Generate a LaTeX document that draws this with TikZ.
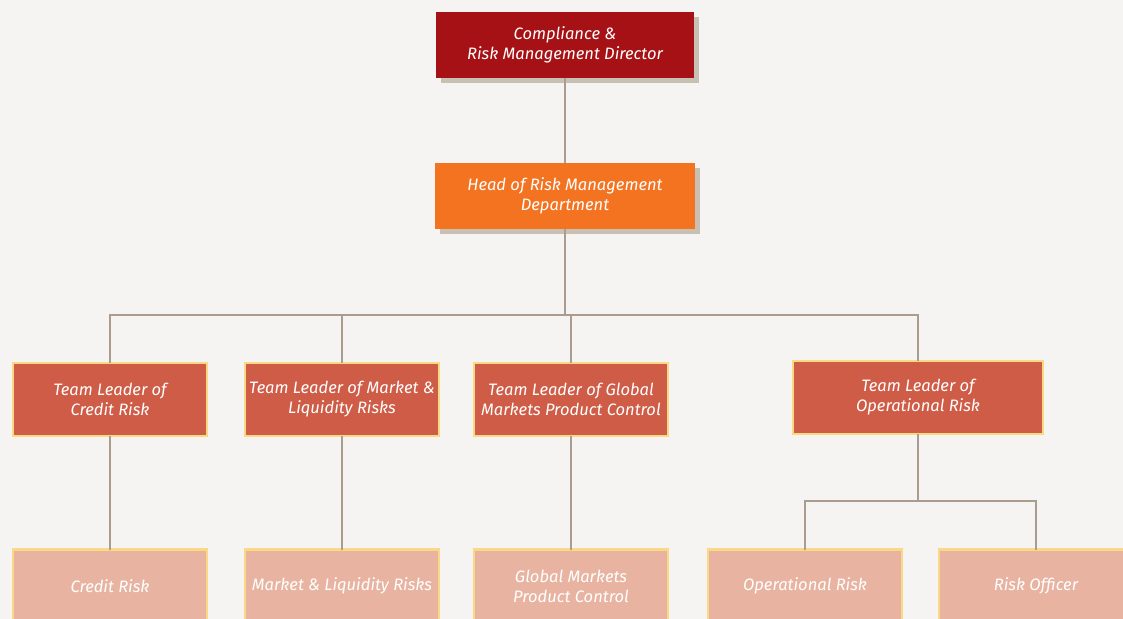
\documentclass[tikz,border=0pt]{standalone}
\usepackage{fontspec}
\setmainfont{Fira Sans}
\usetikzlibrary{shadows}

\definecolor{bgcol}{HTML}{F5F4F2}
\definecolor{dircol}{HTML}{A51114}
\definecolor{headcol}{HTML}{F37321}
\definecolor{leadcol}{HTML}{CF5C47}
\definecolor{leafcol}{HTML}{E8B4A1}
\definecolor{rimcol}{HTML}{FAD985}
\definecolor{shadecol}{HTML}{C9C0B4}
\definecolor{linecol}{HTML}{AA9C8E}

\begin{document}
\begin{tikzpicture}[x=1bp,y=-1bp,
  box/.style={rectangle, inner sep=2bp, outer sep=0pt, align=center, text=white,
    font=\fontsize{16.6}{20}\selectfont\itshape},
  shadowed/.style={drop shadow={shadow xshift=5bp, shadow yshift=-5bp, fill=shadecol, opacity=1}},
  dirbox/.style={box, shadowed, fill=dircol, minimum width=258bp, minimum height=66bp},
  headbox/.style={box, shadowed, fill=headcol, minimum width=260bp, minimum height=66bp},
  leadbox/.style={box, fill=leadcol, draw=rimcol, line width=2.5bp, minimum width=194bp, minimum height=73bp},
  leafbox/.style={box, fill=leafcol, draw=rimcol, line width=2.5bp, minimum width=194bp, minimum height=73bp},
  link/.style={draw=linecol, line width=2bp}]

\path[use as bounding box, fill=bgcol] (0,0) rectangle (1123,619);

\node[dirbox] (dir) at (565,45) {Compliance \&\\Risk Management Director};
\node[headbox] (head) at (565,196) {Head of Risk Management\\Department};

\node[leadbox] (tlcredit) at (110,399.5) {Team Leader of\\Credit Risk};
\node[leadbox] (tlmarket) at (342,399.5) {Team Leader of Market \&\\Liquidity Risks};
\node[leadbox] (tlglobal) at (571,399.5) {Team Leader of Global\\Markets Product Control};
\node[leadbox, minimum width=250bp] (tlop) at (918,397.5) {Team Leader of\\Operational Risk};

\node[leafbox] (credit) at (110,586) {Credit Risk};
\node[leafbox] (market) at (342,586) {Market \& Liquidity Risks};
\node[leafbox] (global) at (571,586) {Global Markets\\Product Control};
\node[leafbox] (oprisk) at (805,586) {Operational Risk};
\node[leafbox] (officer) at (1036,586) {Risk Officer};

\coordinate (bus) at (565,315);
\coordinate (opbus) at (918,501);

\draw[link] (dir.south) -- (head.north);
\draw[link] (head.south) -- (bus);
\draw[link] (bus) -| (tlcredit.north);
\draw[link] (bus) -| (tlmarket.north);
\draw[link] (bus) -| (tlglobal.north);
\draw[link] (bus) -| (tlop.north);
\draw[link] (tlcredit.south) -- (credit.north);
\draw[link] (tlmarket.south) -- (market.north);
\draw[link] (tlglobal.south) -- (global.north);
\draw[link] (tlop.south) -- (opbus);
\draw[link] (opbus) -| (oprisk.north);
\draw[link] (opbus) -| (officer.north);

\end{tikzpicture}
\end{document}
